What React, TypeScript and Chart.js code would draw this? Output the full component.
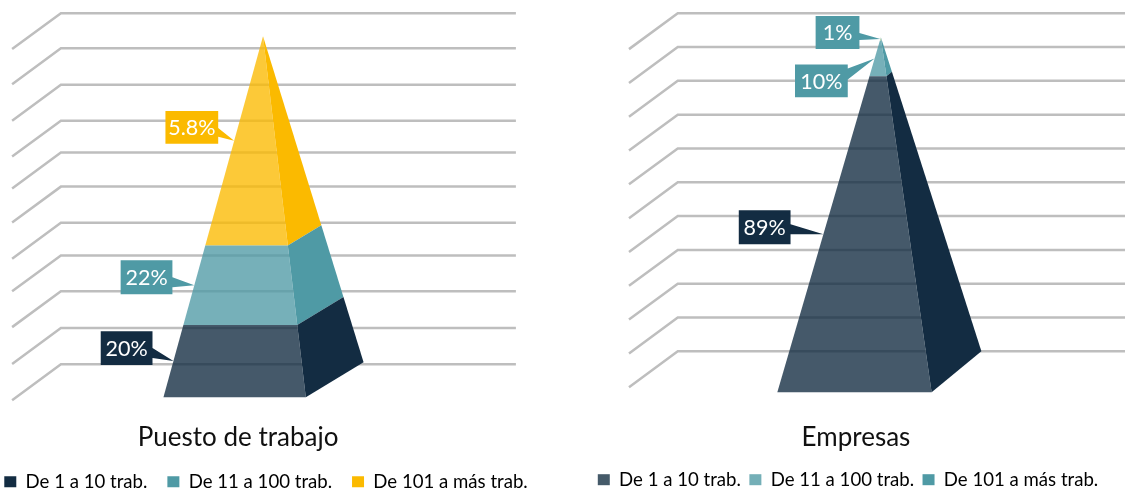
import React, { useEffect, useRef } from "react";
import { Chart, registerables } from "chart.js";

Chart.register(...registerables);

// ---- data ----
const legendLabels = ["De 1 a 10 trab.", "De 11 a 100 trab.", "De 101 a más trab."];

const puestoTitle = "Puesto de trabajo";
const puestoShares = [20, 22, 58];
const puestoLabels = ["20%", "22%", "5.8%"];
const puestoGridLevels = [0, 10.3, 20.8, 31, 40.3, 50.6, 60.3, 69.4, 79.6, 90, 100];

const empresasTitle = "Empresas";
const empresasShares = [89, 10, 1];
const empresasLabels = ["89%", "10%", "1%"];
const empresasGridLevels = [0, 10, 20, 30, 40, 50, 60, 70, 80, 90, 100];

// ---- colours ----
const NAVY = "#132c42";
const TEAL = "#4f9aa5";
const YELLOW = "#fbba00";
const NAVY_F = "rgba(19,44,66,0.79)";
const TEAL_F = "rgba(79,154,165,0.78)";
const YELLOW_F = "rgba(251,186,0,0.78)";
const TIP_F = "#b4d0ac";
const FONT = "Lato, 'Noto Sans', sans-serif";

type Panel = {
  canvasLeft: number; canvasWidth: number; canvasHeight: number;
  title: string; titleX: number; titleY: number;
  shares: number[]; labels: string[]; gridLevels: number[];
  sideColors: string[]; frontColors: string[]; calloutColors: string[]; legendColors: string[];
  zeroY: number; hundredY: number;
  gridBack: number; gridRight: number; gridDepthX: number; gridDepthY: number;
  baseLeft: number; baseRight: number; baseBackX: number; baseFrontY: number; baseBackY: number;
  apexX: number; apexY: number;
  callouts: { dx: number; dy: number; w: number; h: number; p0: number; p1: number }[];
  legendPad: number;
};

const panels: Panel[] = [
  {
    canvasLeft: -20, canvasWidth: 572, canvasHeight: 501,
    title: puestoTitle, titleX: 238, titleY: 438,
    shares: puestoShares, labels: puestoLabels, gridLevels: puestoGridLevels,
    sideColors: [NAVY, TEAL, YELLOW], frontColors: [NAVY_F, TEAL_F, YELLOW_F],
    calloutColors: [NAVY, TEAL, YELLOW], legendColors: [NAVY, TEAL, YELLOW],
    zeroY: 364, hundredY: 12,
    gridBack: 60, gridRight: 517, gridDepthX: 49, gridDepthY: 36,
    baseLeft: 163, baseRight: 306, baseBackX: 364, baseFrontY: 397, baseBackY: 362,
    apexX: 263, apexY: 35,
    callouts: [
      { dx: -73, dy: -30, w: 52, h: 34, p0: 17, p1: 27 },
      { dx: -74, dy: -25, w: 52, h: 34, p0: 17, p1: 27 },
      { dx: -69, dy: -30, w: 53, h: 33, p0: 17, p1: 26 },
    ],
    legendPad: 20,
  },
  {
    canvasLeft: 571, canvasWidth: 554, canvasHeight: 499,
    title: empresasTitle, titleX: 856, titleY: 438,
    shares: empresasShares, labels: empresasLabels, gridLevels: empresasGridLevels,
    sideColors: [NAVY, TEAL, TEAL], frontColors: [NAVY_F, TEAL_F, TIP_F],
    calloutColors: [NAVY, TEAL, TEAL], legendColors: ["#455a69", "#74afb7", TEAL],
    zeroY: 351, hundredY: 12,
    gridBack: 677, gridRight: 1129, gridDepthX: 49, gridDepthY: 36,
    baseLeft: 777, baseRight: 932, baseBackX: 982, baseFrontY: 392, baseBackY: 351,
    apexX: 881, apexY: 36,
    callouts: [
      { dx: -85, dy: -24, w: 52, h: 34, p0: 14, p1: 24 },
      { dx: -80, dy: 6, w: 53, h: 33, p0: 4, p1: 15 },
      { dx: -65, dy: -23, w: 44, h: 33, p0: 17, p1: 24 },
    ],
    legendPad: 8.5,
  },
];

const lerp = (a: number, b: number, t: number) => a + (b - a) * t;

function buildDatasets(p: Panel) {
  const k = (p.zeroY - p.hundredY) / 100; // px per percent on the y scale
  const toVal = (py: number) => (p.zeroY - py) / k;
  const pt = (x: number, py: number) => ({ x, y: toVal(py) });
  const ds: any[] = [];
  const base = { type: "scatter", showLine: true, tension: 0, pointRadius: 0, clip: false, spanGaps: false };

  // Gridlines: back wall plus the slanted floor run
  p.gridLevels.forEach((lvl) => {
    const yb = p.zeroY - lvl * k;
    ds.push({
      ...base, order: 20, fill: false, borderColor: "#bebebe", borderWidth: 2.5,
      data: [pt(p.gridBack - p.gridDepthX, yb + p.gridDepthY), pt(p.gridBack, yb), pt(p.gridRight, yb)],
    });
  });

  // Pyramid faces, stacked from shares
  const total = p.shares.reduce((a, b) => a + b, 0);
  const edge = (h: number) => ({
    fl: pt(lerp(p.baseLeft, p.apexX, h), lerp(p.baseFrontY, p.apexY, h)),
    fr: pt(lerp(p.baseRight, p.apexX, h), lerp(p.baseFrontY, p.apexY, h)),
    br: pt(lerp(p.baseBackX, p.apexX, h), lerp(p.baseBackY, p.apexY, h)),
  });
  let acc = 0;
  p.shares.forEach((s, i) => {
    const a = edge(acc / total), b = edge((acc + s) / total);
    ds.push({
      ...base, order: 5, fill: "shape", borderWidth: 0, borderColor: "transparent",
      backgroundColor: p.sideColors[i], data: [a.fr, a.br, b.br, b.fr, a.fr],
    });
    ds.push({
      ...base, order: 4, fill: "shape", borderWidth: 0, borderColor: "transparent",
      backgroundColor: p.frontColors[i], data: [a.fl, a.fr, b.fr, b.fl, a.fl],
    });
    // Callout with its pointer on the middle of the segment's left edge
    const mid = edge((acc + s / 2) / total).fl;
    const tipX = mid.x, tipY = p.zeroY - mid.y * k;
    const c = p.callouts[i];
    const l = tipX + c.dx, t = tipY + c.dy, r = l + c.w, bt = t + c.h;
    ds.push({
      ...base, order: 1, fill: "shape", borderWidth: 0, borderColor: "transparent",
      backgroundColor: p.calloutColors[i],
      data: [pt(l, t), pt(r, t), pt(r, t + c.p0), pt(tipX, tipY), pt(r, t + c.p1), pt(r, bt), pt(l, bt), pt(l, t)],
      calloutText: p.labels[i], calloutBox: { cx: (l + r) / 2, cy: (t + bt) / 2 },
    });
    acc += s;
  });
  return ds;
}

const textPlugin = {
  id: "panelText",
  afterDatasetsDraw(chart: any) {
    const opts = chart.options.plugins.panelText;
    const { ctx } = chart;
    const sx = chart.scales.x, sy = chart.scales.y;
    const k = opts.k, zero = opts.zeroY;
    ctx.save();
    ctx.textAlign = "center";
    ctx.textBaseline = "middle";
    chart.data.datasets.forEach((d: any) => {
      if (!d.calloutText) return;
      ctx.font = `21.5px ${FONT}`;
      ctx.fillStyle = "#ffffff";
      ctx.fillText(d.calloutText, sx.getPixelForValue(d.calloutBox.cx), sy.getPixelForValue((zero - d.calloutBox.cy) / k) + 1);
    });
    ctx.font = `26px ${FONT}`;
    ctx.fillStyle = "#111111";
    ctx.fillText(opts.title, sx.getPixelForValue(opts.titleX), sy.getPixelForValue((zero - opts.titleY) / k));
    ctx.restore();
  },
};

function PanelChart({ p }: { p: Panel }) {
  const ref = useRef<HTMLCanvasElement>(null);
  useEffect(() => {
    const k = (p.zeroY - p.hundredY) / 100;
    const chart: any = new Chart(ref.current as HTMLCanvasElement, {
      type: "scatter",
      data: { datasets: buildDatasets(p) },
      plugins: [textPlugin],
      options: {
        responsive: false,
        animation: false,
        events: [],
        layout: { padding: 0 },
        scales: {
          x: { type: "linear", display: false, min: p.canvasLeft, max: p.canvasLeft + p.canvasWidth },
          y: { type: "linear", display: false, min: -40, max: 110 },
        },
        plugins: {
          tooltip: { enabled: false },
          panelText: { title: p.title, titleX: p.titleX, titleY: p.titleY, k, zeroY: p.zeroY },
          legend: {
            position: "bottom",
            labels: {
              boxWidth: 12, boxHeight: 11, padding: p.legendPad, color: "#1a1a1a",
              font: { family: FONT, size: 18.6 },
              generateLabels: () =>
                legendLabels.map((text, i) => ({
                  text, fillStyle: p.legendColors[i], strokeStyle: p.legendColors[i],
                  lineWidth: 0, hidden: false, datasetIndex: 0,
                })),
            },
          },
        } as any,
      },
    } as any);
    // Fit the value scale to the area left by the legend so 0 and 100 land on their gridlines
    const area = chart.chartArea;
    chart.options.scales.y.max = 100 + (p.hundredY - area.top) / k;
    chart.options.scales.y.min = (p.zeroY - area.bottom) / k;
    chart.update();
    return () => chart.destroy();
  }, [p]);
  return (
    <canvas
      ref={ref}
      width={p.canvasWidth}
      height={p.canvasHeight}
      style={{ position: "absolute", left: p.canvasLeft, top: 0, display: "block" }}
    />
  );
}

export default function App() {
  return (
    <div style={{ position: "fixed", left: 0, top: 0, width: 1129, height: 490, background: "#fff", overflow: "hidden" }}>
      {panels.map((p) => (
        <PanelChart key={p.title} p={p} />
      ))}
    </div>
  );
}
